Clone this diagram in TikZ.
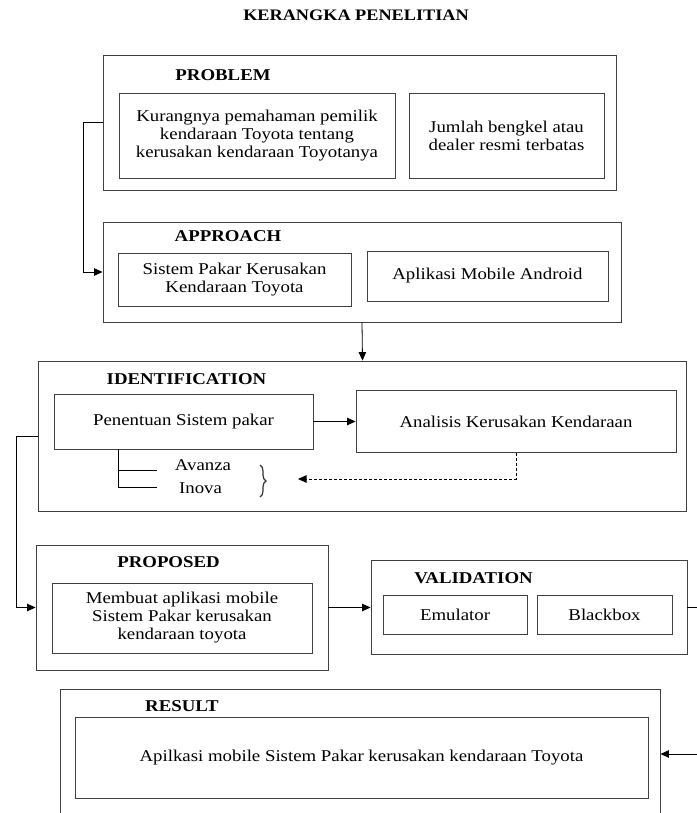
\documentclass[tikz,border=0pt]{standalone}
\usepackage{fontspec}
\setmainfont{Liberation Serif}[FakeStretch=1.14]
\usetikzlibrary{arrows.meta,decorations.pathreplacing,calc}
\tikzset{
 frame/.style={draw=black!75,line width=0.9pt,inner sep=0pt},
 txt/.style={align=center,inner sep=0pt,font=\fontsize{16.5}{18}\selectfont},
 ttl/.style={inner sep=0pt,font=\fontsize{16.5}{18}\selectfont\bfseries},
 conn/.style={draw=black,line width=0.8pt},
 arr/.style={conn,-{Triangle[length=8.5pt,width=7.5pt]}},
}
\begin{document}
\begin{tikzpicture}[x=1pt,y=-1pt]
\useasboundingbox (0,0) rectangle (696,813);
% title
\node[ttl,font=\fontsize{16}{18}\selectfont\bfseries] (title) at (356,15) {KERANGKA PENELITIAN};
% PROBLEM
\node[frame,minimum width=513pt,minimum height=135pt] (prob) at (359.5,122.5) {};
\node[ttl] (probl) at (223,75) {PROBLEM};
\node[frame,minimum width=276pt,minimum height=85pt] (p1) at (257,135.5) {};
\node[txt] (p1t) at (p1) {Kurangnya pemahaman pemilik\\kendaraan Toyota tentang\\kerusakan kendaraan Toyotanya};
\node[frame,minimum width=195pt,minimum height=85pt] (p2) at (506.5,135.5) {};
\node[txt] (p2t) at (p2) {Jumlah bengkel atau\\dealer resmi terbatas};
% APPROACH
\node[frame,minimum width=518pt,minimum height=100pt] (app) at (362,272) {};
\node[ttl] (appl) at (228,236) {APPROACH};
\node[frame,minimum width=233pt,minimum height=53pt] (a1) at (234.5,279.5) {};
\node[txt] (a1t) at (a1) {Sistem Pakar Kerusakan\\Kendaraan Toyota};
\node[frame,minimum width=241pt,minimum height=50pt] (a2) at (487.5,276) {};
\node[txt] (a2t) at (a2) {Aplikasi Mobile Android};
% IDENTIFICATION
\node[frame,minimum width=648pt,minimum height=150pt] (idn) at (362.5,436) {};
\node[ttl] (idnl) at (186.5,379) {IDENTIFICATION};
\node[frame,minimum width=259pt,minimum height=55pt] (pen) at (183.5,421.5) {};
\node[txt] (pent) at (pen) {Penentuan Sistem pakar};
\node[frame,minimum width=320pt,minimum height=62pt] (ana) at (516,421.5) {};
\node[txt] (anat) at (ana) {Analisis Kerusakan Kendaraan};
\node[txt] (avz) at (203,465) {Avanza};
\node[txt] (inv) at (200.5,488) {Inova};
\draw[black!80,line width=1.2pt,decorate,decoration={brace,amplitude=6pt}] (260,465) -- (260,497);
% PROPOSED
\node[frame,minimum width=292pt,minimum height=125pt] (pro) at (182,607.5) {};
\node[ttl] (prol) at (168.5,562) {PROPOSED};
\node[frame,minimum width=260pt,minimum height=70pt] (pr1) at (182,618) {};
\node[txt] (pr1t) at (pr1) {Membuat aplikasi mobile\\Sistem Pakar kerusakan\\kendaraan toyota};
% VALIDATION
\node[frame,minimum width=316pt,minimum height=94pt] (val) at (529,607.5) {};
\node[ttl] (vall) at (473.5,578) {VALIDATION};
\node[frame,minimum width=144pt,minimum height=39pt] (emu) at (455,614.5) {};
\node[txt] (emut) at (emu) {Emulator};
\node[frame,minimum width=135pt,minimum height=39pt] (blk) at (604.5,614.5) {};
\node[txt] (blkt) at (blk) {Blackbox};
% RESULT
\node[frame,minimum width=600pt,minimum height=130pt] (res) at (360,754) {};
\node[ttl] (resl) at (182,706) {RESULT};
\node[frame,minimum width=573pt,minimum height=81pt] (r1) at (361.5,757.5) {};
\node[txt] (r1t) at (r1) {Apilkasi mobile Sistem Pakar kerusakan kendaraan Toyota};
% connectors
\coordinate (c1) at (83,122.5);
\draw[arr] (prob.west) -- (c1) |- (app.west);
\draw[arr] (app.south) -- (idn.north);
\draw[arr] (pen.east) -- (ana.west);
\coordinate (tb) at ($(pen.south west)+(65,0)$);
\coordinate (b1) at (157,470);
\coordinate (b2) at (157,487);
\draw[conn] (tb) |- (b2);
\draw[conn] (tb |- b1) -- (b1);
\coordinate (dend) at (298,479);
\draw[arr,line width=0.7pt,dash pattern=on 3pt off 2pt] (ana.south) |- (dend);
\coordinate (c2) at (16,436);
\draw[arr] (idn.west) -- (c2) |- (pro.west);
\draw[arr] (pro.east) -- (val.west);
\coordinate (c3) at (705,607.5);
\draw[arr] (val.east) -- (c3) |- (res.east);
\end{tikzpicture}
\end{document}
